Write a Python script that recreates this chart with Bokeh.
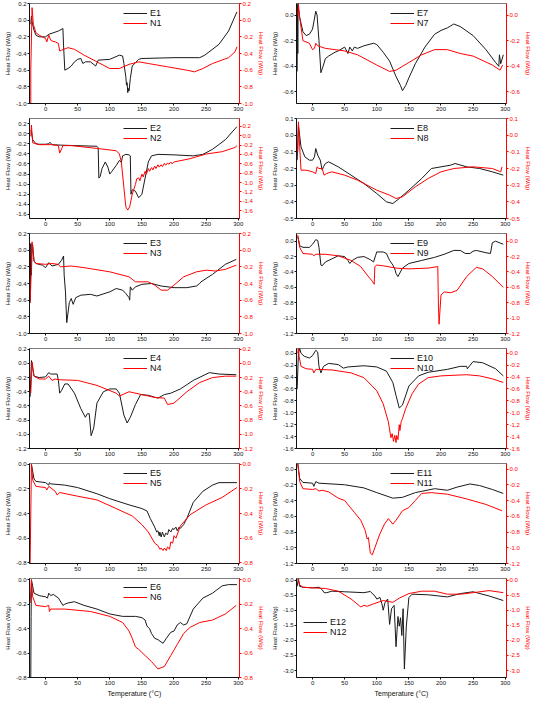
from bokeh.plotting import figure
from bokeh.layouts import gridplot
from bokeh.models import (Range1d, LinearAxis, FixedTicker, PrintfTickFormatter,
                          Legend, LegendItem)
from bokeh.embed import file_html
from bokeh.resources import INLINE

# ---------------- data (temperature in °C, heat flow in W/g) ----------------
e1_temp = [-23, -22, -21, -18, -15, -10, 0, 5, 20, 27, 28, 30, 35, 40, 45, 50, 55, 58, 62, 70, 78, 82, 100, 115, 120, 122, 125, 126, 127, 128, 129, 130, 132, 135, 145, 150, 200, 240, 248, 270, 285, 298]
e1_hf = [-0.05, 0.05, -0.02, -0.12, -0.18, -0.2, -0.2, -0.17, -0.13, -0.1, -0.3, -0.6, -0.58, -0.55, -0.5, -0.47, -0.46, -0.52, -0.5, -0.5, -0.55, -0.48, -0.47, -0.42, -0.43, -0.52, -0.68, -0.78, -0.75, -0.87, -0.82, -0.85, -0.7, -0.55, -0.47, -0.46, -0.45, -0.45, -0.42, -0.29, -0.13, 0.1]
n1_temp = [-23, -23, -21, -19, -15, -10, -5, 0, 2, 5, 8, 10, 15, 20, 22, 25, 35, 45, 60, 80, 100, 115, 130, 145, 160, 190, 220, 232, 245, 260, 285, 295, 298]
n1_hf = [-1.0, -0.6, 0.15, -0.05, -0.15, -0.18, -0.2, -0.22, -0.26, -0.18, -0.24, -0.25, -0.26, -0.28, -0.37, -0.36, -0.33, -0.35, -0.42, -0.5, -0.58, -0.58, -0.53, -0.5, -0.52, -0.56, -0.6, -0.62, -0.58, -0.52, -0.45, -0.38, -0.32]

e2_temp = [-23, -22, -20, -15, -10, 0, 5, 7, 10, 30, 80, 82, 83, 85, 88, 93, 97, 100, 103, 110, 115, 118, 120, 125, 130, 132, 133, 135, 140, 145, 150, 155, 160, 165, 175, 200, 230, 245, 260, 280, 298]
e2_hf = [0.07, 0.04, -0.12, -0.2, -0.21, -0.21, -0.2, -0.17, -0.22, -0.23, -0.25, -0.28, -0.88, -0.85, -0.69, -0.56, -0.66, -0.8, -0.75, -0.63, -0.53, -0.57, -0.44, -0.41, -0.42, -0.44, -1.2, -1.11, -1.14, -1.27, -1.2, -0.88, -0.56, -0.44, -0.41, -0.42, -0.44, -0.41, -0.31, -0.12, 0.14]
n2_temp = [-23, -22, -20, -10, 0, 10, 20, 22, 25, 27, 40, 80, 110, 115, 118, 122, 125, 128, 131, 135, 140, 142, 145, 147, 150, 152, 155, 157, 160, 162, 165, 167, 170, 172, 175, 177, 180, 182, 185, 187, 190, 192, 195, 197, 200, 225, 250, 275, 295, 298]
n2_hf = [-0.01, 0.23, -0.15, -0.19, -0.19, -0.19, -0.21, -0.37, -0.28, -0.21, -0.21, -0.27, -0.32, -0.39, -0.56, -1.11, -1.52, -1.59, -1.52, -1.25, -1.04, -0.92, -0.9, -0.96, -0.82, -0.88, -0.76, -0.82, -0.7, -0.76, -0.68, -0.73, -0.65, -0.7, -0.62, -0.67, -0.62, -0.66, -0.59, -0.63, -0.58, -0.61, -0.56, -0.6, -0.56, -0.49, -0.39, -0.34, -0.25, -0.21]

e3_temp = [-24, -23, -22, -21, -20, -18, -15, -5, 0, 5, 10, 20, 25, 28, 29, 31, 33, 37, 40, 43, 47, 55, 70, 80, 100, 110, 120, 125, 130, 131, 132, 135, 140, 150, 165, 180, 200, 220, 235, 240, 242, 260, 280, 297]
e3_hf = [-0.63, 0.08, -0.3, 0.07, 0.06, -0.13, -0.16, -0.18, -0.21, -0.15, -0.19, -0.17, -0.12, -0.07, -0.3, -0.5, -0.87, -0.63, -0.58, -0.65, -0.57, -0.54, -0.53, -0.55, -0.5, -0.46, -0.48, -0.52, -0.57, -0.6, -0.44, -0.48, -0.44, -0.41, -0.4, -0.43, -0.45, -0.45, -0.43, -0.4, -0.38, -0.29, -0.17, -0.11]
n3_temp = [-24, -22, -21, -18, -15, 0, 10, 20, 23, 40, 60, 100, 130, 140, 160, 170, 180, 190, 200, 215, 235, 250, 265, 280, 297]
n3_hf = [-0.63, -0.2, 0.1, -0.13, -0.16, -0.17, -0.16, -0.17, -0.2, -0.19, -0.21, -0.26, -0.32, -0.38, -0.38, -0.42, -0.48, -0.48, -0.42, -0.32, -0.26, -0.24, -0.25, -0.23, -0.18]

e4_temp = [-24, -22, -20, -18, -10, 0, 5, 8, 18, 20, 22, 25, 30, 35, 45, 55, 62, 65, 68, 71, 75, 80, 90, 100, 110, 115, 122, 127, 132, 140, 148, 160, 175, 185, 195, 210, 230, 255, 270, 297]
e4_hf = [-0.47, 0.04, -0.07, -0.18, -0.2, -0.19, -0.13, -0.15, -0.15, -0.24, -0.42, -0.38, -0.29, -0.29, -0.42, -0.64, -0.76, -0.71, -0.71, -1.02, -0.91, -0.56, -0.4, -0.36, -0.36, -0.42, -0.73, -0.84, -0.76, -0.58, -0.44, -0.45, -0.49, -0.44, -0.42, -0.36, -0.24, -0.13, -0.15, -0.16]
n4_temp = [-23, -21, -18, -10, 0, 5, 10, 15, 20, 50, 80, 110, 115, 130, 150, 170, 185, 190, 200, 220, 240, 260, 280, 297]
n4_hf = [-0.42, 0.02, -0.18, -0.22, -0.22, -0.18, -0.24, -0.22, -0.23, -0.24, -0.31, -0.42, -0.46, -0.4, -0.44, -0.48, -0.49, -0.58, -0.56, -0.4, -0.27, -0.2, -0.18, -0.18]

e5_temp = [-22, -18, -15, 0, 5, 6, 8, 30, 50, 80, 100, 130, 150, 158, 163, 170, 173, 175, 177, 178, 180, 182, 184, 185, 187, 190, 192, 195, 198, 200, 203, 205, 208, 210, 215, 220, 230, 245, 260, 270, 298]
e5_hf = [0.0, -0.12, -0.14, -0.15, -0.17, -0.15, -0.16, -0.17, -0.19, -0.24, -0.28, -0.33, -0.36, -0.38, -0.44, -0.51, -0.55, -0.54, -0.58, -0.55, -0.59, -0.55, -0.58, -0.59, -0.56, -0.57, -0.53, -0.55, -0.52, -0.53, -0.51, -0.54, -0.51, -0.52, -0.49, -0.44, -0.31, -0.22, -0.17, -0.15, -0.15]
n5_temp = [-24, -22, -20, -15, 0, 2, 5, 15, 18, 22, 50, 80, 110, 135, 150, 160, 170, 175, 178, 180, 183, 185, 188, 190, 193, 195, 198, 200, 203, 210, 225, 250, 275, 298]
n5_hf = [-0.8, 0.0, -0.13, -0.18, -0.19, -0.21, -0.18, -0.22, -0.25, -0.23, -0.26, -0.29, -0.36, -0.42, -0.49, -0.55, -0.64, -0.66, -0.69, -0.68, -0.7, -0.68, -0.7, -0.67, -0.69, -0.63, -0.64, -0.58, -0.6, -0.5, -0.41, -0.33, -0.27, -0.19]

e6_temp = [-23, -22.5, -22, -18, -10, 0, 3, 5, 8, 12, 20, 27, 30, 35, 45, 60, 80, 100, 120, 140, 150, 155, 158, 162, 165, 170, 175, 180, 183, 188, 195, 200, 205, 210, 215, 220, 230, 245, 260, 275, 285, 298]
e6_hf = [-0.8, -0.3, 0.0, -0.11, -0.13, -0.14, -0.15, -0.11, -0.13, -0.12, -0.15, -0.21, -0.2, -0.19, -0.18, -0.21, -0.24, -0.28, -0.3, -0.3, -0.31, -0.33, -0.38, -0.4, -0.44, -0.48, -0.49, -0.51, -0.52, -0.48, -0.43, -0.42, -0.37, -0.35, -0.37, -0.36, -0.24, -0.15, -0.11, -0.05, -0.04, -0.04]
n6_temp = [-24, -23, -22, -20, -15, 0, 5, 6, 8, 30, 70, 100, 120, 130, 135, 140, 145, 155, 165, 175, 185, 195, 205, 215, 225, 240, 260, 280, 297]
n6_hf = [-0.19, -0.1, 0.0, -0.14, -0.21, -0.22, -0.21, -0.26, -0.24, -0.24, -0.26, -0.3, -0.35, -0.42, -0.48, -0.55, -0.57, -0.62, -0.67, -0.73, -0.71, -0.62, -0.53, -0.44, -0.39, -0.35, -0.33, -0.28, -0.21]

e7_temp = [-24, -23.5, -23, -22.5, -22, -20, -15, -10, -5, 0, 5, 7, 10, 13, 17, 20, 25, 35, 40, 50, 55, 58, 62, 65, 70, 80, 95, 100, 110, 120, 130, 137, 140, 145, 150, 160, 175, 190, 200, 210, 220, 230, 250, 270, 285, 290, 291, 293, 297]
e7_hf = [-0.44, 0.08, -0.3, 0.09, 0.05, -0.02, -0.13, -0.16, -0.15, -0.11, 0.03, 0.0, -0.2, -0.45, -0.39, -0.34, -0.32, -0.29, -0.28, -0.25, -0.3, -0.25, -0.28, -0.25, -0.26, -0.24, -0.22, -0.23, -0.29, -0.36, -0.48, -0.55, -0.59, -0.55, -0.49, -0.38, -0.25, -0.15, -0.12, -0.1, -0.07, -0.09, -0.16, -0.27, -0.37, -0.4, -0.31, -0.38, -0.31]
n7_temp = [-23, -22, -20, -15, -5, 0, 3, 5, 8, 20, 50, 70, 100, 120, 130, 150, 170, 190, 210, 230, 250, 280, 292, 296]
n7_hf = [0.0, 0.08, -0.02, -0.2, -0.22, -0.27, -0.26, -0.22, -0.24, -0.26, -0.28, -0.31, -0.39, -0.44, -0.43, -0.37, -0.31, -0.27, -0.27, -0.3, -0.32, -0.39, -0.43, -0.39]

e8_temp = [-24, -22, -18, -12, -5, 0, 3, 5, 8, 12, 15, 17, 20, 25, 40, 60, 80, 100, 115, 125, 135, 150, 170, 185, 200, 215, 222, 240, 260, 280, 297]
e8_hf = [-0.15, 0.06, -0.07, -0.13, -0.15, -0.15, -0.13, -0.08, -0.12, -0.15, -0.21, -0.19, -0.17, -0.16, -0.19, -0.24, -0.29, -0.35, -0.4, -0.41, -0.38, -0.33, -0.26, -0.2, -0.19, -0.18, -0.17, -0.19, -0.2, -0.22, -0.24]
n8_temp = [-23, -22, -20, -18, -10, 0, 5, 7, 10, 15, 18, 22, 30, 50, 70, 100, 120, 130, 140, 160, 180, 200, 220, 250, 280, 293, 295]
n8_hf = [-0.1, 0.08, -0.07, -0.21, -0.21, -0.22, -0.23, -0.19, -0.2, -0.2, -0.24, -0.23, -0.22, -0.24, -0.27, -0.33, -0.36, -0.38, -0.37, -0.31, -0.26, -0.22, -0.2, -0.19, -0.2, -0.22, -0.19]

e9_temp = [-23, -20, -15, -5, 0, 5, 8, 10, 13, 15, 20, 30, 40, 50, 55, 58, 62, 70, 80, 90, 95, 98, 100, 110, 115, 120, 125, 128, 130, 133, 140, 150, 170, 190, 205, 220, 230, 238, 245, 250, 255, 270, 277, 280, 285, 297]
e9_hf = [0.06, -0.06, -0.08, -0.08, -0.04, 0.02, 0.01, -0.08, -0.31, -0.32, -0.27, -0.23, -0.19, -0.2, -0.25, -0.29, -0.25, -0.21, -0.2, -0.24, -0.27, -0.19, -0.14, -0.14, -0.16, -0.25, -0.31, -0.36, -0.42, -0.46, -0.35, -0.29, -0.25, -0.21, -0.17, -0.12, -0.12, -0.16, -0.16, -0.13, -0.12, -0.15, -0.16, -0.02, 0.0, -0.04]
n9_temp = [-23, -20, -15, 0, 2, 5, 20, 40, 60, 75, 85, 93, 96, 97, 100, 110, 130, 150, 180, 195, 196, 197, 200, 205, 215, 225, 240, 255, 265, 280, 297]
n9_hf = [0.08, -0.08, -0.16, -0.17, -0.19, -0.17, -0.17, -0.19, -0.25, -0.33, -0.44, -0.52, -0.56, -0.33, -0.31, -0.32, -0.35, -0.36, -0.35, -0.33, -0.83, -1.08, -0.7, -0.66, -0.67, -0.64, -0.46, -0.34, -0.36, -0.46, -0.6]

e10_temp = [-24, -22, -20, -18, -13, -5, 0, 5, 8, 10, 13, 17, 25, 40, 48, 55, 80, 100, 115, 125, 130, 135, 140, 150, 165, 180, 210, 230, 240, 241, 250, 265, 285, 297]
e10_hf = [-0.6, 0.0, 0.08, 0.0, -0.05, -0.08, -0.04, 0.05, 0.02, -0.22, -0.33, -0.22, -0.17, -0.19, -0.25, -0.23, -0.21, -0.23, -0.3, -0.49, -0.71, -0.92, -0.87, -0.55, -0.38, -0.32, -0.27, -0.22, -0.22, -0.26, -0.14, -0.16, -0.26, -0.38]
n10_temp = [-23, -22, -21, -18, -10, 0, 2, 5, 30, 60, 80, 100, 110, 118, 122, 124, 126, 128, 130, 131, 133, 135, 136, 138, 140, 145, 155, 165, 180, 200, 240, 260, 280, 297]
n10_hf = [0.0, 0.1, -0.05, -0.22, -0.26, -0.27, -0.33, -0.27, -0.28, -0.33, -0.41, -0.63, -0.85, -1.15, -1.42, -1.35, -1.48, -1.38, -1.5, -1.38, -1.45, -1.2, -1.3, -1.15, -1.1, -0.93, -0.68, -0.52, -0.41, -0.38, -0.36, -0.38, -0.43, -0.49]

e11_temp = [-23, -20, -15, 0, 2, 5, 10, 50, 80, 100, 125, 140, 160, 190, 210, 225, 245, 260, 280, 297]
e11_hf = [0.07, -0.12, -0.17, -0.18, -0.22, -0.16, -0.18, -0.2, -0.24, -0.3, -0.37, -0.36, -0.3, -0.25, -0.27, -0.23, -0.19, -0.21, -0.26, -0.31]
n11_temp = [-23, -20, -15, 0, 5, 10, 15, 25, 40, 50, 65, 75, 82, 85, 87, 90, 93, 97, 105, 112, 118, 121, 125, 130, 140, 150, 160, 170, 185, 210, 240, 270, 295]
n11_hf = [0.07, -0.16, -0.25, -0.26, -0.25, -0.28, -0.27, -0.29, -0.37, -0.4, -0.55, -0.65, -0.78, -0.89, -0.87, -1.07, -1.09, -1.0, -0.82, -0.7, -0.63, -0.66, -0.7, -0.65, -0.53, -0.49, -0.4, -0.31, -0.3, -0.32, -0.38, -0.45, -0.53]

e12_temp = [-24, -22, -20, -15, 0, 10, 15, 18, 22, 30, 50, 80, 90, 97, 100, 105, 108, 110, 113, 117, 120, 123, 127, 130, 133, 135, 137, 139, 141, 143, 146, 150, 155, 180, 210, 230, 250, 275, 297]
e12_hf = [-0.21, 0.05, -0.21, -0.24, -0.26, -0.24, -0.32, -0.42, -0.42, -0.37, -0.39, -0.42, -0.38, -0.53, -0.63, -0.58, -0.79, -1.0, -0.74, -0.63, -1.47, -0.95, -0.84, -2.21, -1.21, -1.53, -1.25, -1.84, -0.95, -2.95, -1.53, -0.58, -0.47, -0.49, -0.56, -0.45, -0.39, -0.53, -0.68]
n12_temp = [-23, -20, -15, 0, 20, 40, 60, 75, 80, 85, 95, 110, 125, 135, 150, 170, 190, 210, 230, 250, 275, 297]
n12_hf = [0.05, -0.16, -0.24, -0.26, -0.28, -0.37, -0.63, -0.89, -0.84, -0.87, -0.79, -0.68, -0.74, -0.6, -0.45, -0.37, -0.37, -0.47, -0.47, -0.42, -0.35, -0.42]

x_ticks = [0, 50, 100, 150, 200, 250, 300]
ticks_a = [0.2, 0.0, -0.2, -0.4, -0.6, -0.8, -1.0]
ticks_b = [0.2, 0.0, -0.2, -0.4, -0.6, -0.8, -1.0, -1.2, -1.4, -1.6]
ticks_c = [0.2, 0.0, -0.2, -0.4, -0.6, -0.8, -1.0, -1.2]
ticks_d = [0.0, -0.2, -0.4, -0.6, -0.8]
ticks_e = [0.0, -0.2, -0.4, -0.6]
ticks_f = [0.1, 0.0, -0.1, -0.2, -0.3, -0.4, -0.5]
ticks_g = [0.0, -0.2, -0.4, -0.6, -0.8, -1.0, -1.2]
ticks_h = [0.0, -0.2, -0.4, -0.6, -0.8, -1.0, -1.2, -1.4, -1.6]
ticks_i = [0.0, -0.5, -1.0, -1.5, -2.0, -2.5, -3.0]

x_label = "Temperature (°C)"
y_label = "Heat Flow (W/g)"

FONT = "Liberation Sans"
INK = "#111111"


def make_panel(num, e_t, e_hf, n_t, n_hf, lrange, rrange, ticks, bottom, leg_loc):
    h = 124 if bottom else 115
    p = figure(width=267, height=h, x_range=Range1d(-25, 302),
               y_range=Range1d(*lrange), output_backend="svg",
               toolbar_location=None, tools="",
               min_border_left=29, min_border_right=28, min_border_top=3,
               min_border_bottom=21 if bottom else 12)
    p.extra_y_ranges = {"r": Range1d(*rrange)}
    p.xgrid.grid_line_color = None
    p.ygrid.grid_line_color = None
    p.outline_line_color = "#444444"
    p.outline_line_width = 0.7
    p.background_fill_color = "white"
    p.border_fill_color = "white"

    xa = p.xaxis[0]
    xa.ticker = FixedTicker(ticks=x_ticks)
    xa.formatter = PrintfTickFormatter(format="%d")
    xa.major_label_text_font_size = "6px"
    xa.major_label_text_font = FONT
    xa.major_label_text_color = INK
    xa.axis_line_color = INK
    xa.major_tick_line_color = INK
    xa.major_tick_out = 2
    xa.major_tick_in = 0
    xa.minor_tick_line_color = None
    xa.major_label_standoff = 1
    if bottom:
        xa.axis_label = x_label
        xa.axis_label_text_font_size = "7px"
        xa.axis_label_text_font = FONT
        xa.axis_label_text_font_style = "normal"
        xa.axis_label_text_color = INK
        xa.axis_label_standoff = 2

    ya = p.yaxis[0]
    ya.ticker = FixedTicker(ticks=ticks)
    ya.formatter = PrintfTickFormatter(format="%.1f")
    ya.axis_label = y_label
    ya.axis_label_text_font_size = "6px"
    ya.axis_label_text_font = FONT
    ya.axis_label_text_font_style = "normal"
    ya.axis_label_text_color = INK
    ya.axis_label_standoff = 2
    ya.axis_line_color = INK
    ya.major_tick_line_color = INK
    ya.major_label_text_font_size = "6px"
    ya.major_label_text_font = FONT
    ya.major_label_text_color = INK
    ya.major_tick_out = 2
    ya.major_tick_in = 0
    ya.minor_tick_line_color = None
    ya.major_label_standoff = 1

    ra = LinearAxis(y_range_name="r", ticker=FixedTicker(ticks=ticks),
                    formatter=PrintfTickFormatter(format="%.1f"),
                    axis_label=y_label, axis_label_text_font_size="6px",
                    axis_label_text_font=FONT, axis_label_text_font_style="normal",
                    axis_label_text_color="red", axis_label_standoff=2,
                    axis_line_color="red", major_tick_line_color="red",
                    minor_tick_line_color=None, major_label_text_color="red",
                    major_label_text_font_size="6px", major_label_text_font=FONT,
                    major_tick_out=2, major_tick_in=0, major_label_standoff=1)
    p.add_layout(ra, "right")

    re = p.line(e_t, e_hf, line_color="#1a1a1a", line_width=1)
    rn = p.line(n_t, n_hf, line_color="#ff0000", line_width=1, y_range_name="r")

    leg = Legend(items=[LegendItem(label="E%d" % num, renderers=[re]),
                        LegendItem(label="N%d" % num, renderers=[rn])],
                 location=leg_loc, background_fill_alpha=0, border_line_alpha=0,
                 padding=0, margin=0, spacing=0, glyph_width=24, glyph_height=10,
                 label_height=10, label_standoff=3, label_text_font=FONT,
                 label_text_font_size="9px", label_text_color=INK)
    p.add_layout(leg)
    return p


std = (94, 75)
p1 = make_panel(1, e1_temp, e1_hf, n1_temp, n1_hf, (-1.0, 0.2), (-1.0, 0.2), ticks_a, False, std)
p2 = make_panel(2, e2_temp, e2_hf, n2_temp, n2_hf, (-1.68, 0.3), (-1.77, 0.37), ticks_b, False, std)
p3 = make_panel(3, e3_temp, e3_hf, n3_temp, n3_hf, (-1.0, 0.2), (-1.0, 0.2), ticks_a, False, std)
p4 = make_panel(4, e4_temp, e4_hf, n4_temp, n4_hf, (-1.2, 0.21), (-1.2, 0.21), ticks_c, False, std)
p5 = make_panel(5, e5_temp, e5_hf, n5_temp, n5_hf, (-0.805, 0.005), (-0.805, 0.005), ticks_d, False, std)
p6 = make_panel(6, e6_temp, e6_hf, n6_temp, n6_hf, (-0.8, 0.01), (-0.8, 0.01), ticks_d, True, std)
p7 = make_panel(7, e7_temp, e7_hf, n7_temp, n7_hf, (-0.69, 0.09), (-0.69, 0.09), ticks_e, False, std)
p8 = make_panel(8, e8_temp, e8_hf, n8_temp, n8_hf, (-0.5, 0.1), (-0.5, 0.1), ticks_f, False, std)
p9 = make_panel(9, e9_temp, e9_hf, n9_temp, n9_hf, (-1.2, 0.1), (-1.2, 0.1), ticks_g, False, std)
p10 = make_panel(10, e10_temp, e10_hf, n10_temp, n10_hf, (-1.6, 0.08), (-1.6, 0.08), ticks_h, False, std)
p11 = make_panel(11, e11_temp, e11_hf, n11_temp, n11_hf, (-1.2, 0.07), (-1.2, 0.07), ticks_g, False, std)
p12 = make_panel(12, e12_temp, e12_hf, n12_temp, n12_hf, (-3.23, 0.05), (-3.23, 0.05), ticks_i, True, (7, 40))

grid = gridplot([[p1, p7], [p2, p8], [p3, p9], [p4, p10], [p5, p11], [p6, p12]],
                toolbar_location=None)

open("out.html", "w").write(file_html(grid, INLINE))
